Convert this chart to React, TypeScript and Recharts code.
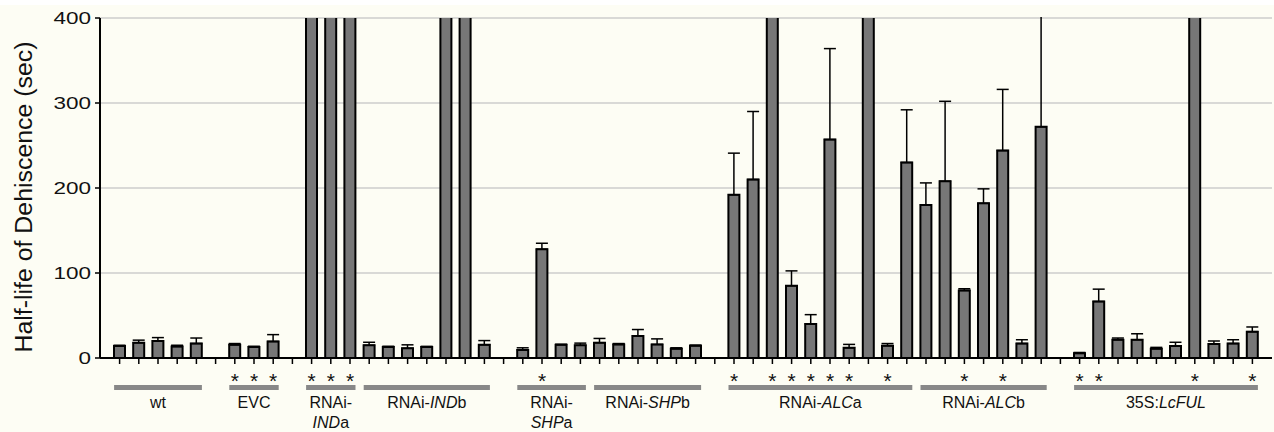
import { Bar, BarChart, CartesianGrid, ErrorBar, XAxis, YAxis } from 'recharts';

// one slot per bar, null = spacer between lines
const values = [
  14, 18, 20, 13.5, 17, null,
  15.5, 13, 19.5, null,
  600, 600, 600,
  15, 13, 11.5, 13, 600, 600, 15.5, null,
  9.5, 128, 15.5, 15,
  18, 16, 26, 16, 11, 14.5, null,
  192, 210, 600, 85, 40, 257, 12, 600, 14.5, 230,
  180, 208, 79.5, 182, 244, 17, 272, null,
  5.5, 66.5, 21.5, 21.5, 11, 14, 600, 16.5, 17, 31,
];

const errors = [
  1, 3, 4, 1.5, 6.5, null,
  1.5, 0.8, 8, null,
  null, null, null,
  3.5, 0.8, 4, 0.7, null, null, 5, null,
  2.5, 7, 0.7, 2.5,
  5, 1, 7.5, 6.5, 1, 0.7, null,
  49, 80, null, 17.5, 11, 107, 4, null, 2.5, 62,
  26, 94, 2, 17, 72, 4.5, 160, null,
  1, 14.5, 2, 7, 1.5, 4.5, null, 3.5, 4.5, 5.5,
];

const starred = [6, 7, 8, 10, 11, 12, 22, 32, 34, 35, 36, 37, 38, 40, 44, 46, 50, 51, 56, 59];

// _x_ = italic
const groupLabels = [
  ['wt'],
  ['EVC'],
  ['RNAi-', '_IND_a'],
  ['RNAi-_IND_b'],
  ['RNAi-', '_SHP_a'],
  ['RNAi-_SHP_b'],
  ['RNAi-_ALC_a'],
  ['RNAi-_ALC_b'],
  ['35S:_LcFUL_'],
];
const groupStarts = [0, 6, 10, 13, 21, 25, 32, 42, 50];
const groupSizes = [5, 3, 3, 7, 4, 6, 10, 7, 10];

const yTicks = [0, 100, 200, 300, 400];

const data = values.map((v, i) => ({
  slot: i,
  value: v,
  err: errors[i] == null ? null : [0, errors[i]],
}));

const FONT = '"Liberation Sans", Arial, Helvetica, sans-serif';
const BAND = (1172 - 20) / values.length;

const renderLine = (line: string) =>
  line.split('_').map((part, i) =>
    i % 2 === 1 ? (
      <tspan key={i} fontStyle="italic">{part}</tspan>
    ) : (
      <tspan key={i}>{part}</tspan>
    )
  );

const XTick = (props: any) => {
  const { x, payload } = props;
  const idx = Number(payload.value);
  const g = groupStarts.indexOf(idx);
  return (
    <g>
      {starred.includes(idx) && (
        <text x={x} y={388} textAnchor="middle" fontSize={21} fontFamily={FONT} fill="#111">*</text>
      )}
      {g >= 0 && (
        <g>
          <rect x={x - 5.5} y={385} width={(groupSizes[g] - 1) * BAND + 11} height={5} fill="#888" />
          {groupLabels[g].map((line, li) => (
            <text
              key={li}
              x={x + ((groupSizes[g] - 1) * BAND) / 2}
              y={408 + li * 20}
              textAnchor="middle"
              fontSize={16}
              fontFamily={FONT}
              fill="#111"
            >
              {renderLine(line)}
            </text>
          ))}
        </g>
      )}
    </g>
  );
};

const YTick = (props: any) => {
  const { x, y, payload } = props;
  const label = String(payload.value);
  return (
    <text
      x={x}
      y={y}
      dy="0.36em"
      textAnchor="end"
      fontSize={17}
      fontFamily={FONT}
      fill="#111"
      textLength={label.length * 12.5}
      lengthAdjust="spacingAndGlyphs"
    >
      {label}
    </text>
  );
};

const YTitle = () => (
  <text
    x={24}
    y={197}
    transform="rotate(-90 24 197)"
    textAnchor="middle"
    dominantBaseline="central"
    fontSize={23}
    fontFamily={FONT}
    fill="#111"
    textLength={311}
    lengthAdjust="spacingAndGlyphs"
  >
    Half-life of Dehiscence (sec)
  </text>
);

export default function App() {
  return (
    <div
      style={{
        position: 'absolute',
        left: 0,
        top: 0,
        width: 1274,
        height: 432,
        background: 'linear-gradient(#ffffff 0 5px, #fdfdf4 5px)',
      }}
    >
      <BarChart
        width={1274}
        height={432}
        data={data}
        margin={{ top: 18, right: 2, bottom: 0, left: 0 }}
        barCategoryGap={0}
      >
        <CartesianGrid vertical={false} stroke="#cdcdcd" strokeWidth={1.5} />
        <XAxis
          dataKey="slot"
          interval={0}
          height={74}
          padding={{ left: 10, right: 10 }}
          axisLine={{ stroke: '#000', strokeWidth: 2 }}
          tickLine={{ stroke: '#000', strokeWidth: 1.5 }}
          tickSize={6}
          tick={<XTick />}
        />
        <YAxis
          width={100}
          domain={[0, 400]}
          ticks={yTicks}
          allowDataOverflow
          axisLine={{ stroke: '#000', strokeWidth: 2 }}
          tickLine={{ stroke: '#000', strokeWidth: 1.5 }}
          tickSize={5}
          tickMargin={4}
          tick={<YTick />}
          label={<YTitle />}
        />
        <Bar
          dataKey="value"
          fill="#777777"
          stroke="#000"
          strokeWidth={2}
          barSize={11}
          isAnimationActive={false}
        >
          <ErrorBar dataKey="err" direction="y" width={6} stroke="#000" strokeWidth={1.5} />
        </Bar>
      </BarChart>
      {/* error bars are not clipped to the plot, hide what rises past 400 */}
      <div
        style={{
          position: 'absolute',
          left: 102,
          top: 0,
          width: 1172,
          height: 17,
          background: 'linear-gradient(#ffffff 0 5px, #fdfdf4 5px)',
        }}
      />
    </div>
  );
}
